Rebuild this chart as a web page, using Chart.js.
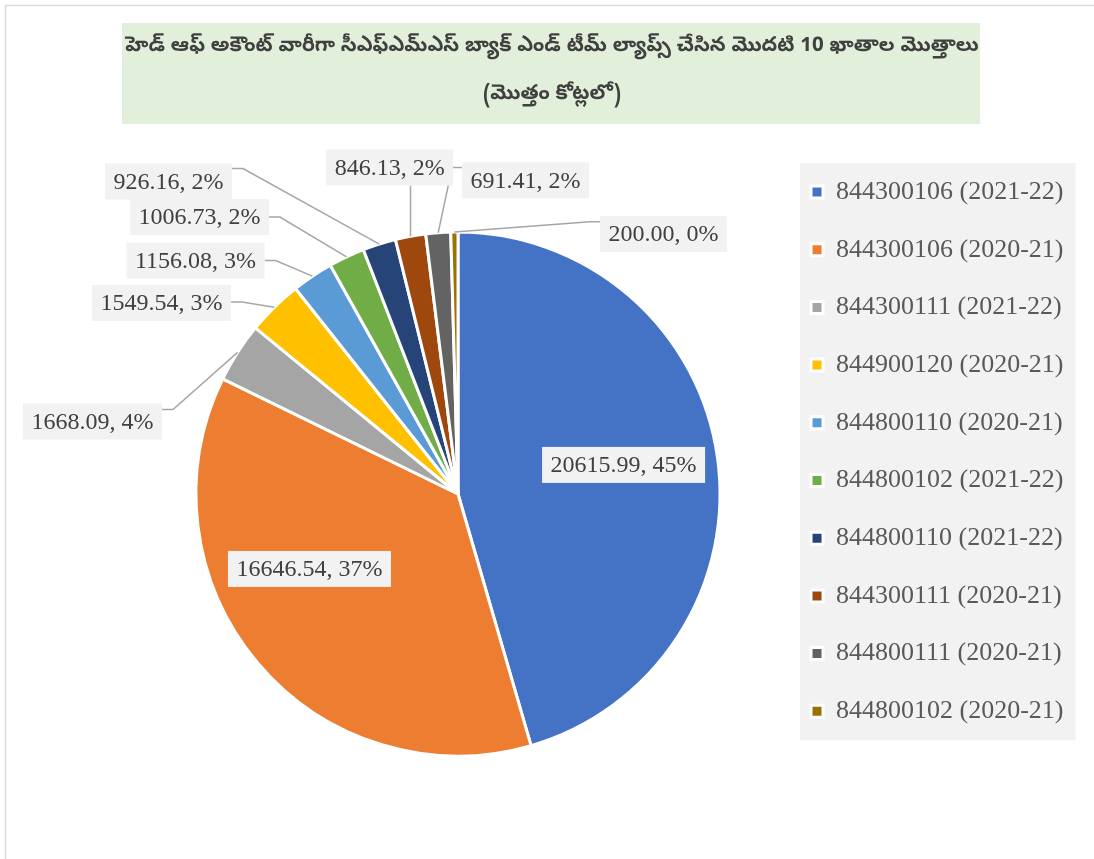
<!DOCTYPE html>
<html>
<head>
<meta charset="utf-8">
<script src="https://cdn.jsdelivr.net/npm/chart.js@4.4.1/dist/chart.umd.min.js"></script>
<style>
  html, body { margin: 0; padding: 0; background: #ffffff; }
  #wrap { width: 1094px; height: 859px; position: relative; }
</style>
</head>
<body>
<div id="wrap"><canvas id="c" width="1094" height="859"></canvas></div>
<script>
// ---- data ----
const titleLines = [
  'హెడ్ ఆఫ్ అకౌంట్ వారీగా సీఎఫ్ఎమ్ఎస్ బ్యాక్ ఎండ్ టీమ్ ల్యాప్స్ చేసిన మొదటి 10 ఖాతాల మొత్తాలు',
  '(మొత్తం కోట్లలో)'
];
const categories = [
  '844300106 (2021-22)', '844300106 (2020-21)', '844300111 (2021-22)', '844900120 (2020-21)',
  '844800110 (2020-21)', '844800102 (2021-22)', '844800110 (2021-22)', '844300111 (2020-21)',
  '844800111 (2020-21)', '844800102 (2020-21)'
];
const values = [20615.99, 16646.54, 1668.09, 1549.54, 1156.08, 1006.73, 926.16, 846.13, 691.41, 200.00];
const percentLabels = [45, 37, 4, 3, 3, 2, 2, 2, 2, 0];

// ---- styles ----
const sliceColors = ['#4472C4', '#ED7D31', '#A5A5A5', '#FFC000', '#5B9BD5',
                     '#70AD47', '#264478', '#9E480E', '#636363', '#997300'];

// label placement (relative to pie centre, in units of the radius)
const labelOffsets = [
  [0.632, -0.111], [-0.567, 0.286], [-1.395, -0.277], [-1.132, -0.729], [-1.002, -0.891],
  [-0.987, -1.057], [-1.105, -1.193], [-0.261, -1.246], [0.258, -1.197], [0.784, -0.992]
];
const leaderAttach = [null, null, ['right', 0.17], ['right', 0.47], ['right', 0.5], ['right', 0.5],
                      ['right', 0.14], ['bottom', 0], ['left', 0.14], ['left', 0.16]];

const serif = '"Liberation Serif", "Times New Roman", serif';

const frameAndBackgrounds = {
  id: 'frameAndBackgrounds',
  beforeDraw(chart) {
    const ctx = chart.ctx;
    ctx.save();
    // outer chart frame (only top/left visible in reference)
    ctx.strokeStyle = '#d9d9d9';
    ctx.lineWidth = 1.5;
    ctx.strokeRect(5.5, 5.5, chart.width + 20, chart.height + 20);
    // title box
    const tb = chart.titleBlock;
    const cx = (tb.left + tb.right) / 2;
    ctx.fillStyle = '#E2EFDA';
    ctx.fillRect(cx - 430, tb.top + 12, 858, 101);
    // legend box
    const hb = chart.legend.legendHitBoxes;
    if (hb && hb.length) {
      const left = Math.min(...hb.map(h => h.left)) - 11;
      const right = Math.max(...hb.map(h => h.left + h.width)) + 12;
      const top = hb[0].top - 16;
      const bottom = hb[hb.length - 1].top + hb[hb.length - 1].height + 16;
      ctx.fillStyle = '#F2F2F2';
      ctx.fillRect(left, top, right - left, bottom - top);
    }
    ctx.restore();
  }
};

const dataLabels = {
  id: 'dataLabels',
  afterDatasetsDraw(chart) {
    const ctx = chart.ctx;
    const meta = chart.getDatasetMeta(0);
    ctx.save();
    ctx.font = '24px ' + serif;
    const boxes = meta.data.map((arc, i) => {
      const p = arc.getProps(['x', 'y', 'outerRadius', 'startAngle', 'endAngle'], true);
      const text = values[i].toFixed(2) + ', ' + percentLabels[i] + '%';
      const w = ctx.measureText(text).width + 17;
      const h = 36;
      const cx = p.x + labelOffsets[i][0] * p.outerRadius;
      const cy = p.y + labelOffsets[i][1] * p.outerRadius;
      const mid = (p.startAngle + p.endAngle) / 2;
      return { text, w, h, cx, cy, left: cx - w / 2, top: cy - h / 2,
               ax: p.x + p.outerRadius * Math.cos(mid), ay: p.y + p.outerRadius * Math.sin(mid) };
    });
    // leader lines
    ctx.strokeStyle = '#A6A6A6';
    ctx.lineWidth = 1.5;
    boxes.forEach((b, i) => {
      const a = leaderAttach[i];
      if (!a) return;
      ctx.beginPath();
      if (a[0] === 'bottom') {
        ctx.moveTo(b.ax, b.top + b.h);
        ctx.lineTo(b.ax, b.ay);
      } else {
        const sx = a[0] === 'right' ? b.left + b.w : b.left;
        const sy = b.top + a[1] * b.h;
        const ex = sx + (a[0] === 'right' ? 11 : -10);
        ctx.moveTo(sx, sy);
        ctx.lineTo(ex, sy);
        ctx.lineTo(b.ax, b.ay);
      }
      ctx.stroke();
    });
    // label boxes and text
    ctx.textAlign = 'center';
    ctx.textBaseline = 'middle';
    boxes.forEach(b => {
      ctx.fillStyle = '#F2F2F2';
      ctx.fillRect(b.left, b.top, b.w, b.h);
      ctx.fillStyle = '#404040';
      ctx.fillText(b.text, b.cx, b.cy + 1);
    });
    ctx.restore();
  }
};

new Chart(document.getElementById('c'), {
  type: 'pie',
  data: {
    labels: categories,
    datasets: [{
      data: values,
      backgroundColor: sliceColors,
      borderColor: '#ffffff',
      borderWidth: 3,
      radius: 262
    }]
  },
  options: {
    responsive: false,
    animation: false,
    events: [],
    layout: { padding: { top: 11, left: 30.5, right: 20.5, bottom: 18.3 } },
    plugins: {
      title: {
        display: true,
        text: titleLines,
        color: '#404040',
        font: { family: '"Noto Sans Telugu", "Lohit Telugu", "Gautami", sans-serif', size: 20.5, weight: 'bold', lineHeight: '48px' },
        padding: { top: 13, bottom: 27.3 }
      },
      subtitle: {
        display: true,
        position: 'left',
        text: '',
        font: { size: 12, lineHeight: '106.2px' },
        padding: 0
      },
      legend: {
        display: true,
        position: 'right',
        align: 'start',
        fullSize: false,
        maxWidth: 400,
        labels: {
          color: '#595959',
          font: { family: serif, size: 26 },
          boxWidth: 12,
          boxHeight: 12,
          padding: 31.7
        }
      },
      tooltip: { enabled: false }
    }
  },
  plugins: [frameAndBackgrounds, dataLabels]
});
</script>
</body>
</html>
